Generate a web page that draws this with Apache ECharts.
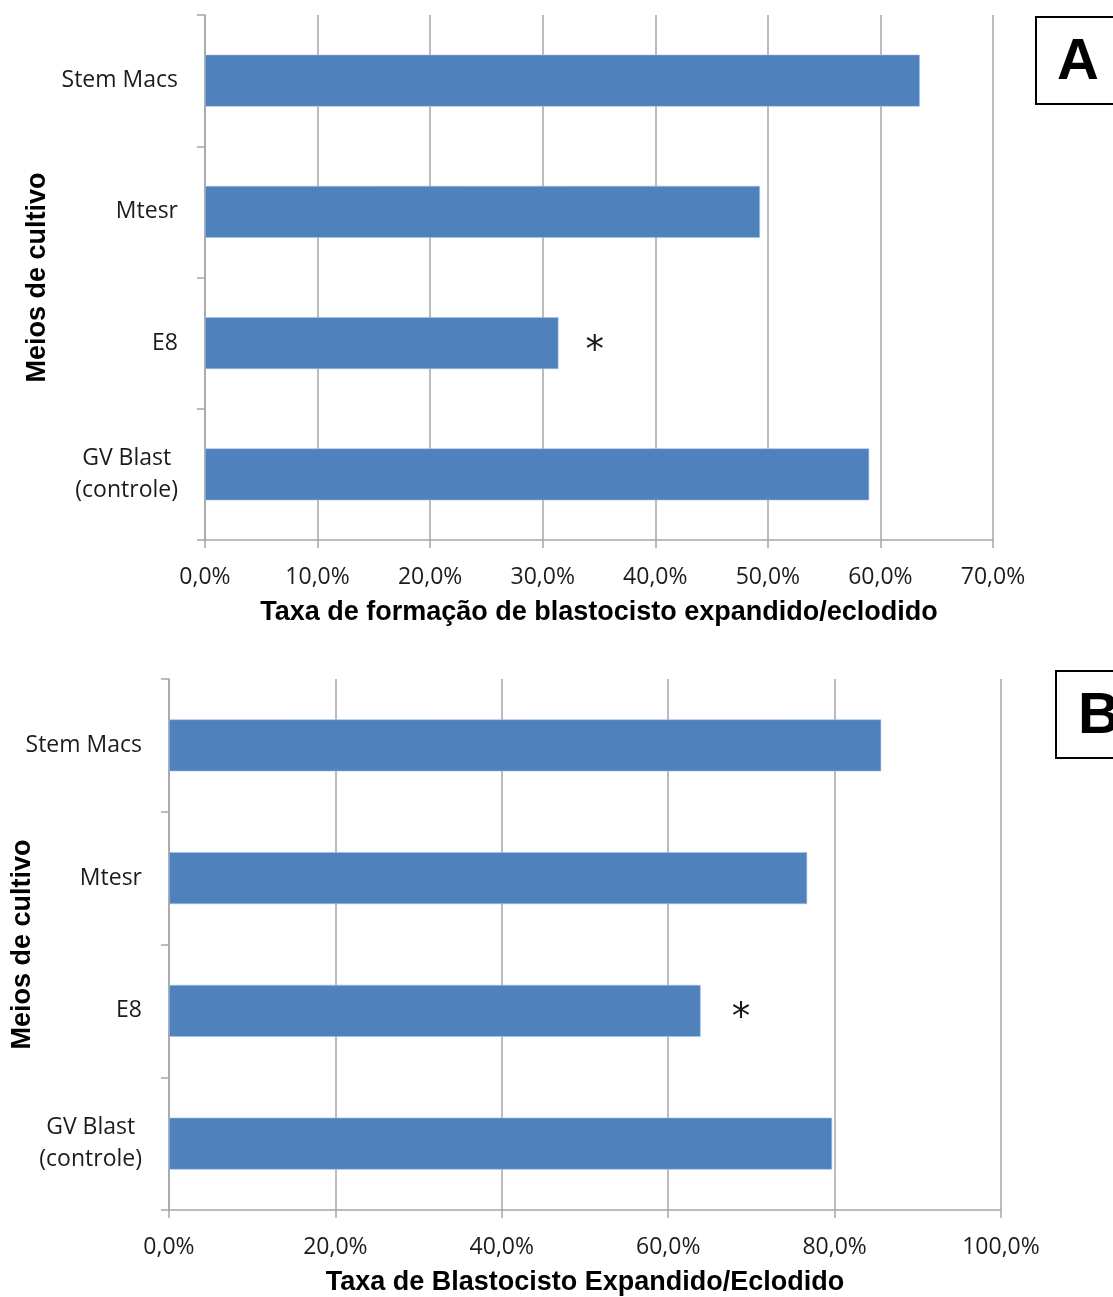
<!DOCTYPE html>
<html>
<head>
<meta charset="utf-8">
<script src="https://cdn.jsdelivr.net/npm/echarts@6/dist/echarts.min.js"></script>
<style>
html,body{margin:0;padding:0;background:#fff;}
#chart{width:1113px;height:1297px;}
</style>
</head>
<body>
<div id="chart"></div>
<script>
var categories = ['Stem Macs', 'Mtesr', 'E8', 'GV Blast\n(controle)'];
var valuesA = [63.5, 49.3, 31.4, 59.0];
var valuesB = [85.6, 76.7, 63.9, 79.7];
var markedIndex = 2; // E8, significant (*)
var ticksA = [0, 10, 20, 30, 40, 50, 60, 70];
var ticksB = [0, 20, 40, 60, 80, 100];
var xTitleA = 'Taxa de formação de blastocisto expandido/eclodido';
var xTitleB = 'Taxa de Blastocisto Expandido/Eclodido';
var yTitle = 'Meios de cultivo';

var labelFont = 'Open Sans';
var boldFont = 'Liberation Sans';
var gridColor = '#a6a6a6';
var barColor = '#4f81bd';
var textColor = '#1c1c1c';

function pct(v) { return v.toFixed(1).replace('.', ',') + '%'; }

function catLabel(v) {
  var lines = v.split('\n');
  return lines.map(function (l) { return '{c|' + l + '}'; }).join('\n');
}

function xAxis(gridIndex, ticks, title, nameGap) {
  return {
    type: 'value', gridIndex: gridIndex,
    min: ticks[0], max: ticks[ticks.length - 1], interval: ticks[1] - ticks[0],
    axisLine: { show: true, lineStyle: { color: gridColor, width: 1.5 } },
    axisTick: { show: true, length: 8, lineStyle: { color: gridColor, width: 1.5 } },
    splitLine: { show: true, lineStyle: { color: gridColor, width: 1.5 } },
    axisLabel: { formatter: pct, color: textColor, fontFamily: labelFont, fontSize: 23, margin: 26 },
    name: title, nameLocation: 'middle', nameGap: nameGap, nameMoveOverlap: false,
    nameTextStyle: { fontFamily: boldFont, fontWeight: 'bold', fontSize: 27, color: '#000' }
  };
}

function yAxis(gridIndex, nameGap) {
  return {
    type: 'category', gridIndex: gridIndex, data: categories, inverse: true,
    axisLine: { show: true, lineStyle: { color: gridColor, width: 1.5 } },
    axisTick: { show: true, length: 8, lineStyle: { color: gridColor, width: 1.5 } },
    axisLabel: {
      formatter: catLabel, margin: 27, color: textColor,
      rich: { c: { fontFamily: labelFont, fontSize: 23, color: textColor, align: 'center', lineHeight: 32 } }
    },
    name: yTitle, nameLocation: 'middle', nameGap: nameGap, nameRotate: 90, nameMoveOverlap: false,
    nameTextStyle: { fontFamily: boldFont, fontWeight: 'bold', fontSize: 27, color: '#000' }
  };
}

function series(idx, values, dist) {
  return {
    type: 'bar', xAxisIndex: idx, yAxisIndex: idx, data: values, barWidth: 52,
    itemStyle: { color: barColor, borderColor: '#a9c3e6', borderWidth: 0.6 },
    label: {
      show: true, position: 'right', distance: dist,
      formatter: function (p) { return p.dataIndex === markedIndex ? '*' : ''; },
      fontFamily: 'DejaVu Sans', fontSize: 37, color: '#1a1a1a', offset: [0, 9]
    },
    silent: true
  };
}

var chart = echarts.init(document.getElementById('chart'), null, { renderer: 'canvas' });
chart.setOption({
  animation: false,
  backgroundColor: '#fff',
  grid: [
    { left: 205, top: 15, width: 788, height: 525, containLabel: false, outerBoundsMode: 'none' },
    { left: 169, top: 679, width: 832, height: 531, containLabel: false, outerBoundsMode: 'none' }
  ],
  xAxis: [xAxis(0, ticksA, xTitleA, 59), xAxis(1, ticksB, xTitleB, 59)],
  yAxis: [yAxis(0, 154), yAxis(1, 133)],
  series: [series(0, valuesA, 27), series(1, valuesB, 31)],
  graphic: [
    { type: 'rect', shape: { x: 1036, y: 17, width: 100, height: 87 }, style: { fill: '#fff', stroke: '#000', lineWidth: 2 } },
    { type: 'text', x: 1078, y: 63, style: { text: 'A', font: 'bold 58px "Liberation Sans"', fill: '#000', textAlign: 'center', textVerticalAlign: 'middle' } },
    { type: 'rect', shape: { x: 1056, y: 671, width: 100, height: 87 }, style: { fill: '#fff', stroke: '#000', lineWidth: 2 } },
    { type: 'text', x: 1099, y: 717, style: { text: 'B', font: 'bold 58px "Liberation Sans"', fill: '#000', textAlign: 'center', textVerticalAlign: 'middle' } }
  ]
});
</script>
</body>
</html>
